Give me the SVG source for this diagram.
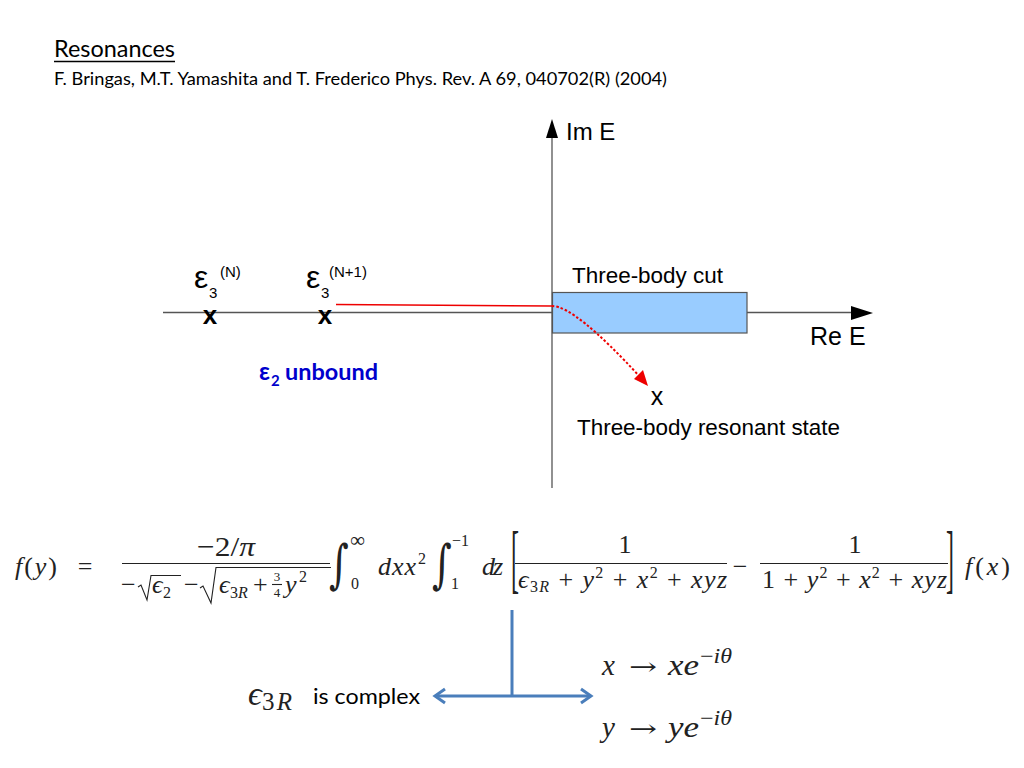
<svg xmlns="http://www.w3.org/2000/svg" width="1024" height="768" viewBox="0 0 1024 768">
<defs>
<style>
.cal{font-family:Lato,"Open Sans","Liberation Sans",sans-serif;fill:#000}
.ar{font-family:"Liberation Sans",Arial,sans-serif;fill:#000}
.m{font-family:"Liberation Serif","DejaVu Serif",serif;fill:#222}
.i{font-style:italic}
.ax{stroke:#555;stroke-width:1.3;fill:none}
.bar{stroke:#222;stroke-width:1.1;fill:none}
.blue{stroke:#4a7ebb;stroke-width:3;fill:none}
.int{font-family:"DejaVu Serif",serif;fill:#222}
.arr{font-family:"DejaVu Serif",serif;fill:#222}
</style>
</defs>
<rect width="1024" height="768" fill="#fff"/>

<g id="title">
<text class="cal" x="54" y="57" font-size="23" textLength="121" lengthAdjust="spacingAndGlyphs">Resonances</text>
<line x1="54" y1="61.5" x2="175" y2="61.5" stroke="#000" stroke-width="1.3"/>
<text class="cal" x="54" y="85" font-size="18" textLength="613" lengthAdjust="spacingAndGlyphs">F. Bringas, M.T. Yamashita and T. Frederico Phys. Rev. A 69, 040702(R) (2004)</text>
</g>

<g id="axes">
<line class="ax" x1="552" y1="136" x2="552" y2="488"/>
<polygon points="552,119 546,138 558,138" fill="#000"/>
<text class="ar" x="566" y="140" font-size="24">Im E</text>
<line class="ax" x1="163" y1="312.5" x2="853" y2="312.5"/>
<polygon points="873,313 851,306 851,320" fill="#000"/>
<text class="ar" x="810" y="345" font-size="25">Re E</text>
</g>

<g id="cut">
<rect x="552.5" y="292.5" width="194.5" height="40.5" fill="#99ccff" stroke="#555" stroke-width="1.2"/>
<text class="ar" x="572" y="283" font-size="22" textLength="151" lengthAdjust="spacingAndGlyphs">Three-body cut</text>
</g>

<g id="eps3N">
<text class="ar" x="194" y="288" font-size="32">ε</text>
<text class="ar" x="209" y="298" font-size="15">3</text>
<text class="ar" x="220" y="277" font-size="15">(N)</text>
<text class="ar" x="210" y="324" font-size="26" font-weight="bold" text-anchor="middle">x</text>
</g>

<g id="eps3N1">
<text class="ar" x="306" y="288" font-size="32">ε</text>
<text class="ar" x="321" y="298" font-size="15">3</text>
<text class="ar" x="329" y="277" font-size="15">(N+1)</text>
<text class="ar" x="325" y="324" font-size="26" font-weight="bold" text-anchor="middle">x</text>
</g>

<g id="eps2">
<text class="cal" x="259" y="380" font-size="24" font-weight="bold" style="fill:#0000cc">ε</text>
<text class="cal" x="271" y="386" font-size="15" font-weight="bold" style="fill:#0000cc">2</text>
<text class="cal" x="285" y="380" font-size="23" font-weight="bold" style="fill:#0000cc" textLength="93" lengthAdjust="spacingAndGlyphs">unbound</text>
</g>

<g id="resonant">
<text class="ar" x="657" y="405" font-size="25" text-anchor="middle">x</text>
<text class="ar" x="577" y="435" font-size="22" textLength="263" lengthAdjust="spacingAndGlyphs">Three-body resonant state</text>
</g>

<g id="connectors">
<line x1="336" y1="304.5" x2="552" y2="306" stroke="#e00" stroke-width="1.6"/>
<path d="M552,306 Q575,306 641,378" fill="none" stroke="#e00" stroke-width="2" stroke-dasharray="2.5,2"/>
<polygon points="648,386 634,379 643,370" fill="#e00"/>
<line class="blue" x1="512" y1="610" x2="512" y2="696"/>
<line class="blue" x1="435" y1="696" x2="591" y2="696"/>
<path class="blue" d="M445,689 L435,696 L445,703"/>
<path class="blue" d="M581,689 L591,696 L581,703"/>
</g>

<g id="formula" font-size="26">
<text class="m" x="15" y="575" textLength="42"><tspan class="i">f</tspan>(<tspan class="i">y</tspan>)</text>
<text class="m" x="85" y="575" text-anchor="middle">=</text>
<text class="m" x="197" y="556" font-size="28" textLength="58" lengthAdjust="spacingAndGlyphs">−2/<tspan class="i">π</tspan></text>
<line class="bar" x1="122" y1="563.5" x2="330" y2="563.5"/>
<text class="m" x="121" y="593">−</text>
<path class="bar" d="M138,587 L141,585 L147,600 L151,575.5 L181,575.5"/>
<text class="m i" x="152" y="593">ϵ</text>
<text class="m" x="163" y="598" font-size="16">2</text>
<text class="m" x="184" y="593">−</text>
<path class="bar" d="M200,588 L203,586 L211,603 L216,567.5 L331,567.5"/>
<text class="m i" x="219" y="593">ϵ</text>
<text class="m" x="230" y="598" font-size="16">3<tspan class="i">R</tspan></text>
<text class="m" x="253" y="593">+</text>
<text class="m" x="277" y="581" font-size="13" text-anchor="middle">3</text>
<line class="bar" x1="272" y1="584.5" x2="282" y2="584.5"/>
<text class="m" x="277" y="597" font-size="13" text-anchor="middle">4</text>
<text class="m i" x="285" y="593">y</text>
<text class="m" x="299" y="582" font-size="16">2</text>

<text class="int" x="0" y="0" font-size="40" transform="translate(329,582) scale(0.95,1.3)">∫</text>
<text class="m" x="350" y="547" font-size="21">∞</text>
<text class="m" x="351" y="589" font-size="16">0</text>
<text class="m i" x="378" y="575" textLength="38">dxx</text>
<text class="m" x="418" y="564" font-size="16">2</text>
<text class="int" x="0" y="0" font-size="40" transform="translate(432,582) scale(0.95,1.3)">∫</text>
<text class="m" x="452" y="546" font-size="16">−1</text>
<text class="m" x="451" y="589" font-size="16">1</text>
<text class="m i" x="482" y="575" textLength="21">dz</text>

<text class="m" x="0" y="0" font-size="40" transform="translate(511,584) scale(0.6,1.9)">[</text>
<text class="m" x="625" y="553" text-anchor="middle">1</text>
<line class="bar" x1="515" y1="563.5" x2="727" y2="563.5"/>
<text class="m" x="518" y="588" textLength="209"><tspan class="i">ϵ</tspan><tspan font-size="16" dy="4">3<tspan class="i">R</tspan></tspan><tspan dy="-4"> + </tspan><tspan class="i">y</tspan><tspan font-size="16" dy="-10">2</tspan><tspan dy="10"> + </tspan><tspan class="i">x</tspan><tspan font-size="16" dy="-10">2</tspan><tspan dy="10"> + </tspan><tspan class="i">xyz</tspan></text>
<text class="m" x="740" y="575" text-anchor="middle">−</text>
<text class="m" x="855" y="553" text-anchor="middle">1</text>
<line class="bar" x1="760" y1="563.5" x2="948" y2="563.5"/>
<text class="m" x="762" y="588" textLength="185">1 + <tspan class="i">y</tspan><tspan font-size="16" dy="-10">2</tspan><tspan dy="10"> + </tspan><tspan class="i">x</tspan><tspan font-size="16" dy="-10">2</tspan><tspan dy="10"> + </tspan><tspan class="i">xyz</tspan></text>
<text class="m" x="0" y="0" font-size="40" transform="translate(946,584) scale(0.6,1.9)">]</text>
<text class="m" x="965" y="575" textLength="45"><tspan class="i">f</tspan>(<tspan class="i">x</tspan>)</text>
</g>

<g id="complex">
<text class="m i" x="248" y="705" font-size="34">ϵ</text>
<text class="m" x="262" y="710" font-size="25" textLength="30">3<tspan class="i">R</tspan></text>
<text class="cal" x="313" y="704" font-size="22" textLength="107" lengthAdjust="spacingAndGlyphs">is complex</text>
</g>

<g id="rotation">
<text class="m i" x="602" y="675" font-size="29">x</text>
<text class="arr" x="629" y="675" font-size="24" textLength="28" lengthAdjust="spacingAndGlyphs">→</text>
<text class="m i" x="668" y="675" font-size="30" textLength="31" lengthAdjust="spacingAndGlyphs">xe</text>
<text class="m" x="700" y="663" font-size="21" textLength="32" lengthAdjust="spacingAndGlyphs">−<tspan class="i">iθ</tspan></text>
<text class="m i" x="602" y="737" font-size="29">y</text>
<text class="arr" x="629" y="737" font-size="24" textLength="28" lengthAdjust="spacingAndGlyphs">→</text>
<text class="m i" x="668" y="737" font-size="30" textLength="31" lengthAdjust="spacingAndGlyphs">ye</text>
<text class="m" x="700" y="725" font-size="21" textLength="32" lengthAdjust="spacingAndGlyphs">−<tspan class="i">iθ</tspan></text>
</g>
</svg>
